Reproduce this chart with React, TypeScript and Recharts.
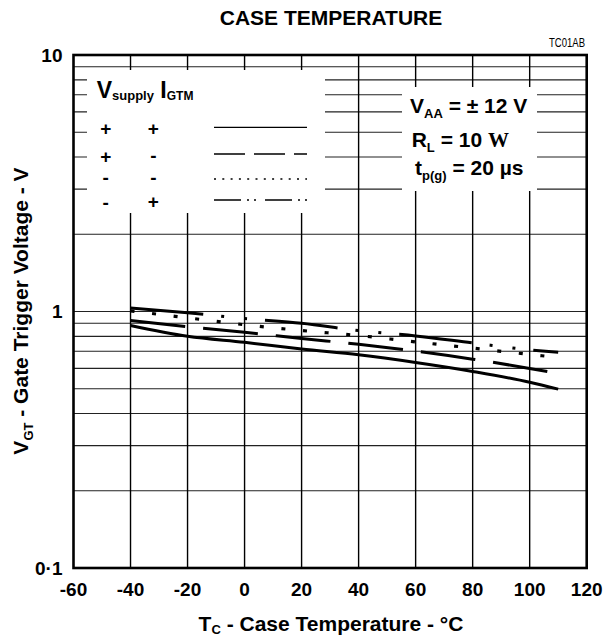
import React from "react";
import { LineChart, Line, XAxis, YAxis, CartesianGrid } from "recharts";

const temps = [-40, -20, 0, 20, 40, 60, 80, 100, 110];
const vPP = [0.882, 0.8, 0.758, 0.714, 0.678, 0.633, 0.584, 0.53, 0.498];
const vPM = [0.922, 0.872, 0.83, 0.785, 0.745, 0.701, 0.652, 0.6, 0.574];
const vMM = [1.005, 0.945, 0.888, 0.843, 0.806, 0.761, 0.72, 0.68, 0.662];
const vMP = [1.031, 0.988, 0.939, 0.899, 0.843, 0.803, 0.754, 0.709, 0.694];

const xTicks = [-60, -40, -20, 0, 20, 40, 60, 80, 100, 120];
const xGrid = [-40, -20, 0, 20, 40, 60, 80, 100];
const yTicks = [0.1, 1, 10];
const yGrid = [0.2, 0.3, 0.4, 0.5, 0.6, 0.7, 0.8, 0.9, 1, 2, 3, 4, 5, 6, 7, 8, 9];

const data = temps.map((t, i) => ({ t, pp: vPP[i], pm: vPM[i], mm: vMM[i], mp: vMP[i] }));

const F = "'Liberation Sans', Arial, Helvetica, sans-serif";

const fmtY = (v: number) => (v === 0.1 ? "0·1" : String(v));

export default function App() {
  const W = 606;
  const H = 641;
  const left = 73.5;
  const top = 55;
  const right = 586.7;
  const bottom = 568;

  const hGen = (props: any) => {
    const s = props?.yAxis?.scale;
    const off = props.offset;
    return yGrid.map((v) =>
      typeof s === "function"
        ? s(v)
        : off.top + off.height * (1 - (Math.log10(v) + 1) / 2)
    );
  };
  const vGen = (props: any) => {
    const s = props?.xAxis?.scale;
    const off = props.offset;
    return xGrid.map((v) =>
      typeof s === "function" ? s(v) : off.left + (off.width * (v + 60)) / 180
    );
  };

  const sub = 13;
  return (
    <div style={{ position: "absolute", left: 0, top: 0, width: W, height: H, background: "#fff" }}>
      <LineChart
        width={W}
        height={H}
        data={data}
        margin={{ top: top, right: W - right, bottom: H - bottom - 30, left: left - 60 }}
      >
        <CartesianGrid
          vertical={false}
          stroke="#222"
          strokeWidth={1.1}
          horizontalCoordinatesGenerator={hGen}
        />
        <CartesianGrid
          horizontal={false}
          stroke="#000"
          strokeWidth={1.4}
          verticalCoordinatesGenerator={vGen}
        />
        <XAxis
          type="number"
          dataKey="t"
          domain={[-60, 120]}
          ticks={xTicks}
          interval={0}
          allowDataOverflow
          axisLine={false}
          tickLine={false}
          tickSize={0}
          tickMargin={15}
          height={30}
          tick={{ fill: "#000", fontSize: 19, fontWeight: "bold", fontFamily: F }}
        />
        <YAxis
          type="number"
          scale="log"
          domain={[0.1, 10]}
          ticks={yTicks}
          interval={0}
          allowDataOverflow
          axisLine={false}
          tickLine={false}
          tickSize={0}
          tickMargin={11}
          width={60}
          tickFormatter={fmtY}
          tick={{ fill: "#000", fontSize: 19, fontWeight: "bold", fontFamily: F }}
        />
        <Line type="monotone" dataKey="pp" stroke="#000" strokeWidth={3} dot={false} isAnimationActive={false} />
        <Line type="monotone" dataKey="pm" stroke="#000" strokeWidth={3} strokeDasharray="55 18" dot={false} isAnimationActive={false} />
        <Line type="monotone" dataKey="mm" stroke="#000" strokeWidth={3.2} strokeDasharray="4 17.7" dot={false} isAnimationActive={false} />
        <Line type="monotone" dataKey="mp" stroke="#000" strokeWidth={3} strokeDasharray="73 18 3 20 3 18" dot={false} isAnimationActive={false} />
      </LineChart>

      <svg
        width={W}
        height={H}
        style={{ position: "absolute", left: 0, top: 0, pointerEvents: "none" }}
        fontFamily={F}
      >
        {/* white boxes interrupting the grid */}
        <rect x={87} y={70} width={238} height={143} fill="#fff" />
        <rect x={402} y={87} width={135} height={104} fill="#fff" />
        {/* frame */}
        <rect x={left} y={top} width={right - left} height={bottom - top} fill="none" stroke="#000" strokeWidth={2.6} />

        {/* title */}
        <text x={331} y={25} textAnchor="middle" fontSize={21} fontWeight="bold" fill="#000">
          CASE TEMPERATURE
        </text>
        <text x={585} y={47} textAnchor="end" fontSize={12.5} fill="#000" textLength={36} lengthAdjust="spacingAndGlyphs">
          TC01AB
        </text>

        {/* legend header */}
        <text x={96.7} y={98.3} fontSize={23} fontWeight="bold" fill="#000">
          V<tspan fontSize={sub} dy={2}>supply</tspan>
          <tspan fontSize={23} dy={-2}> I</tspan>
          <tspan fontSize={12} dy={2}>GTM</tspan>
        </text>
        {/* legend signs */}
        <g fontSize={19} fontWeight="bold" fill="#000" textAnchor="middle">
          <text x={105.7} y={135}>+</text>
          <text x={153.3} y={135}>+</text>
          <text x={105.7} y={162.6}>+</text>
          <text x={153.3} y={161.5}>-</text>
          <text x={105.7} y={183.5}>-</text>
          <text x={153.3} y={183.5}>-</text>
          <text x={105.7} y={208.5}>-</text>
          <text x={153.3} y={208.3}>+</text>
        </g>
        {/* legend line samples */}
        <g stroke="#000" strokeWidth={1.3}>
          <line x1={214} y1={127.3} x2={307} y2={127.3} />
          <line x1={214} y1={154} x2={307} y2={154} strokeDasharray="31 9" />
          <line x1={214} y1={179} x2={307} y2={179} strokeDasharray="2 6.3" />
          <line x1={214} y1={200} x2={310} y2={200} strokeDasharray="27 6 2 5 2 9" />
        </g>

        {/* conditions */}
        <g fontWeight="bold" fill="#000">
          <text x={410} y={113.3} fontSize={21}>
            V<tspan fontSize={sub} dy={5}>AA</tspan>
            <tspan fontSize={21} dy={-5}> = ± 12 V</tspan>
          </text>
          <text x={411.7} y={147.3} fontSize={21}>
            R<tspan fontSize={sub} dy={5}>L</tspan>
            <tspan fontSize={21} dy={-5}> = 10 </tspan>
            <tspan fontFamily="'Liberation Serif', 'DejaVu Serif', serif">W</tspan>
          </text>
          <text x={415} y={175} fontSize={21}>
            t<tspan fontSize={sub} dy={5}>p(g)</tspan>
            <tspan fontSize={21} dy={-5}> = 20 µs</tspan>
          </text>
        </g>

        {/* axis titles */}
        <text x={331} y={631} textAnchor="middle" fontSize={21} fontWeight="bold" fill="#000">
          T<tspan fontSize={sub} dy={3}>C</tspan>
          <tspan fontSize={21} dy={-3}> - Case Temperature - °C</tspan>
        </text>
        <text
          transform="translate(28,311) rotate(-90)"
          x={0}
          y={0}
          textAnchor="middle"
          fontSize={21}
          fontWeight="bold"
          fill="#000"
        >
          V<tspan fontSize={sub} dy={5}>GT</tspan>
          <tspan fontSize={21} dy={-5}> - Gate Trigger Voltage - V</tspan>
        </text>
      </svg>
    </div>
  );
}
